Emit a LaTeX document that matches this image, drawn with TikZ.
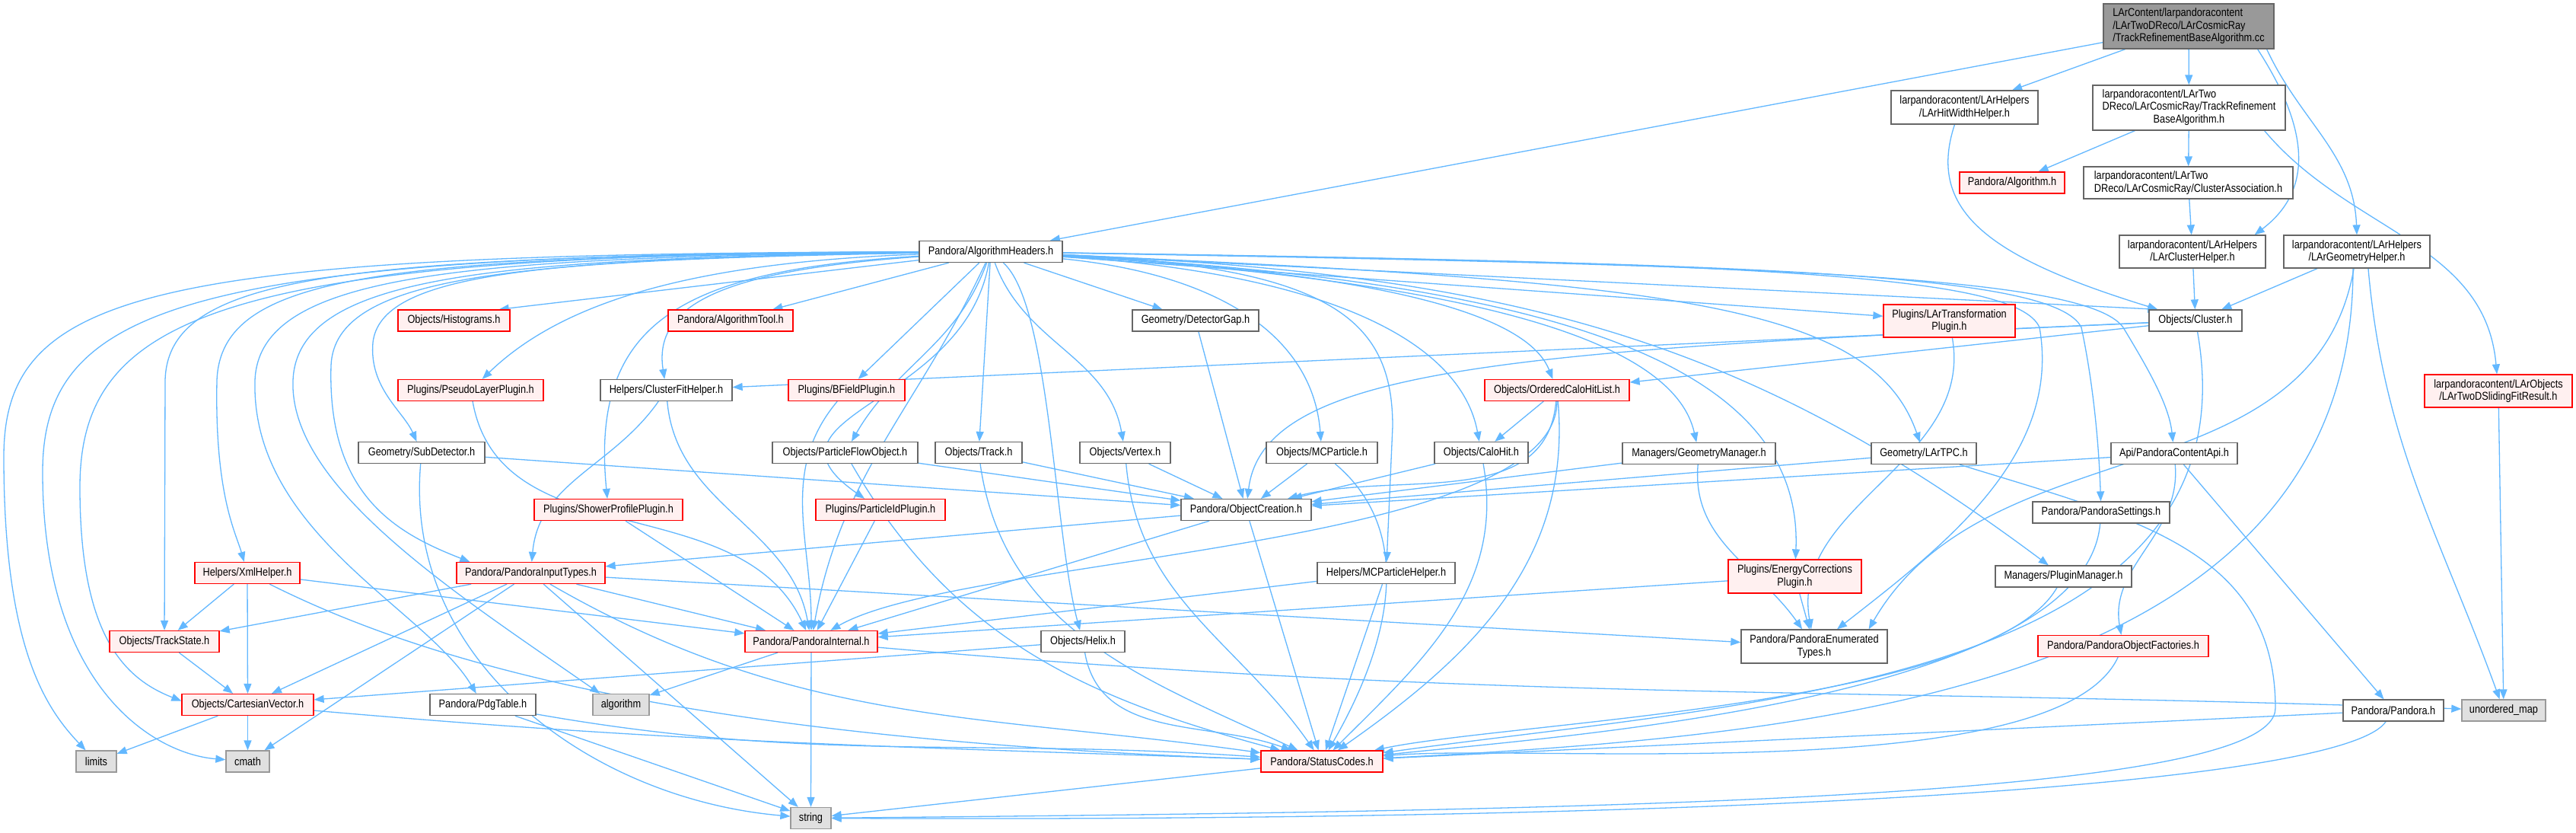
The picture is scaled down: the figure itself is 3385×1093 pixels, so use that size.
\documentclass[tikz,border=0pt]{standalone}
\usepackage{fontspec}
\setmainfont{Liberation Sans}[FakeStretch=0.85]
\usetikzlibrary{arrows.meta,calc}
\pgfdeclarelayer{back}
\pgfdeclarelayer{bg}
\pgfsetlayers{back,bg,main}
\definecolor{edgeblue}{HTML}{63B8FF}
\definecolor{boxgray}{HTML}{666666}
\definecolor{redfill}{HTML}{FFF0F0}
\definecolor{sysfill}{HTML}{E0E0E0}
\definecolor{sysdraw}{HTML}{999999}
\definecolor{rootfill}{HTML}{999999}
\newcommand{\nodefnt}{\fontsize{1.5}{1.65}\selectfont}
\begin{document}
\begin{tikzpicture}[x=0.1pt,y=0.1pt,
 nd/.style={draw=boxgray, fill=white, line width=0.13pt, inner sep=0pt, font=\nodefnt, minimum height=2.8pt, align=center},
 rd/.style={nd, draw=red, fill=redfill},
 sy/.style={nd, draw=sysdraw, fill=sysfill},
 rt/.style={nd, fill=rootfill},
 wd/.style={minimum width=#1*0.1pt},
 ht/.style={minimum height=#1*0.1pt},
 lnk/.style={draw=edgeblue, line width=0.13pt, -{Triangle[length=1.3pt,width=1.0pt]}},
]
\useasboundingbox (0,0) rectangle (3385,-1093);
\begin{pgfonlayer}{back}
\fill[white] (0,0) rectangle (3385,-1093);
\end{pgfonlayer}

\node[rt, wd=224, ht=59, align=left] (root) at (2876,-34.5) {LArContent/larpandoracontent\\/LArTwoDReco/LArCosmicRay\\/TrackRefinementBaseAlgorithm.cc};
\node[nd, wd=193, ht=44] (hitw) at (2581.5,-141) {larpandoracontent/LArHelpers\\/LArHitWidthHelper.h};
\node[nd, wd=253, ht=59] (trba) at (2876.5,-141.5) {\begin{tabular}{@{}l@{}}larpandoracontent/LArTwo\\DReco/LArCosmicRay/TrackRefinement\\\multicolumn{1}{@{}c@{}}{BaseAlgorithm.h}\end{tabular}};
\node[rd, wd=138] (alg) at (2644,-240) {Pandora/Algorithm.h};
\node[nd, wd=275, ht=42, align=left] (clas) at (2875.5,-240) {larpandoracontent/LArTwo\\DReco/LArCosmicRay/ClusterAssociation.h};
\node[nd, wd=192, ht=43] (clh) at (2881,-330.5) {larpandoracontent/LArHelpers\\/LArClusterHelper.h};
\node[nd, wd=192, ht=43] (geoh) at (3097,-330.5) {larpandoracontent/LArHelpers\\/LArGeometryHelper.h};
\node[nd, wd=188] (ah) at (1302,-330.5) {Pandora/AlgorithmHeaders.h};
\node[rd, wd=147] (hist) at (596.5,-421) {Objects/Histograms.h};
\node[rd, wd=164] (atool) at (960,-421) {Pandora/AlgorithmTool.h};
\node[nd, wd=166] (dgap) at (1571,-421) {Geometry/DetectorGap.h};
\node[rd, wd=173, ht=43] (lartr) at (2561.5,-421.5) {Plugins/LArTransformation\\Plugin.h};
\node[nd, wd=122] (clus) at (2885,-421) {Objects/Cluster.h};
\node[rd, wd=191] (pslp) at (618.5,-512.5) {Plugins/PseudoLayerPlugin.h};
\node[nd, wd=173] (cfh) at (875.5,-512.5) {Helpers/ClusterFitHelper.h};
\node[rd, wd=153] (bfp) at (1112.5,-512.5) {Plugins/BFieldPlugin.h};
\node[rd, wd=190] (ochl) at (2046,-512.5) {Objects/OrderedCaloHitList.h};
\node[rd, wd=194, ht=43] (slid) at (3283,-513.5) {larpandoracontent/LArObjects\\/LArTwoDSlidingFitResult.h};
\node[nd, wd=166] (subd) at (554,-594.5) {Geometry/SubDetector.h};
\node[nd, wd=191] (pfo) at (1110.5,-594.5) {Objects/ParticleFlowObject.h};
\node[nd, wd=114] (trk) at (1286,-594.5) {Objects/Track.h};
\node[nd, wd=119] (vtx) at (1478.5,-594.5) {Objects/Vertex.h};
\node[nd, wd=146] (mcp) at (1737,-594.5) {Objects/MCParticle.h};
\node[nd, wd=123] (calo) at (1946.5,-594.5) {Objects/CaloHit.h};
\node[nd, wd=201] (gman) at (2232.5,-595.5) {Managers/GeometryManager.h};
\node[nd, wd=138] (lartpc) at (2528,-595.5) {Geometry/LArTPC.h};
\node[nd, wd=166] (api) at (2857,-595.5) {Api/PandoraContentApi.h};
\node[nd, wd=180] (pset) at (2761,-673) {Pandora/PandoraSettings.h};
\node[rd, wd=195] (shpp) at (799.5,-669.5) {Plugins/ShowerProfilePlugin.h};
\node[rd, wd=170] (pidp) at (1157,-669.5) {Plugins/ParticleIdPlugin.h};
\node[nd, wd=171] (ocre) at (1637.5,-669.5) {Pandora/ObjectCreation.h};
\node[rd, wd=175, ht=44] (ecp) at (2358.5,-757) {Plugins/EnergyCorrections\\Plugin.h};
\node[nd, wd=179] (pman) at (2711.5,-757) {Managers/PluginManager.h};
\node[rd, wd=138] (xml) at (325,-752.5) {Helpers/XmlHelper.h};
\node[rd, wd=195] (pit) at (697.5,-752.5) {Pandora/PandoraInputTypes.h};
\node[nd, wd=181] (mcph) at (1821.5,-752.5) {Helpers/MCParticleHelper.h};
\node[rd, wd=144] (tst) at (216,-842.5) {Objects/TrackState.h};
\node[rd, wd=174] (pint) at (1066,-842.5) {Pandora/PandoraInternal.h};
\node[nd, wd=110] (helix) at (1423,-842.5) {Objects/Helix.h};
\node[nd, wd=192, ht=44] (penum) at (2384,-849) {Pandora/PandoraEnumerated\\Types.h};
\node[rd, wd=224] (pof) at (2790,-848.5) {Pandora/PandoraObjectFactories.h};
\node[rd, wd=173] (cvec) at (325.5,-925.5) {Objects/CartesianVector.h};
\node[nd, wd=139] (pdg) at (634.5,-925.5) {Pandora/PdgTable.h};
\node[sy, wd=74] (algo) at (816,-925.5) {algorithm};
\node[nd, wd=132] (pandora) at (3145,-933) {Pandora/Pandora.h};
\node[sy, wd=110] (umap) at (3290,-933) {unordered\_map};
\node[sy, wd=53] (limits) at (126.5,-1000) {limits};
\node[sy, wd=57] (cmath) at (325.5,-1000) {cmath};
\node[rd, wd=160] (stat) at (1737,-1000) {Pandora/StatusCodes.h};
\node[sy, wd=53] (string) at (1065.5,-1074.5) {string};

\begin{pgfonlayer}{bg}
% root file
\draw[lnk] (root) -- (ah);
\draw[lnk] (root) -- (hitw);
\draw[lnk] (root) -- (trba);
\draw[lnk] ($(root.south east)+(-22,0)$) .. controls (3035,-170) and (3040,-250) .. ($(clh.north east)+(-15,0)$);
\draw[lnk] ($(root.south east)+(-10,0)$) to[out=-65,in=92] (geoh.north);
\draw[lnk] (trba) -- (alg);
\draw[lnk] (trba) -- (clas);
\draw[lnk] ($(trba.south east)+(-28,0)$) to[out=-50,in=95] (slid);
\draw[lnk] (clas) -- (clh);
\draw[lnk] ($(hitw.south)+(-13,0)$) .. controls (2530,-280) and (2620,-340) .. ($(clus.north west)+(12,0)$);
\draw[lnk] (clh) -- (clus);
\draw[lnk] (geoh) -- (clus);
\draw[lnk] (geoh) to[out=-100,in=60] ($(penum.north east)+(-25,0)$);
\draw[lnk] ($(geoh.south)+(-5,0)$) to[out=-90,in=3] (stat);
\draw[lnk] ($(geoh.south)+(15,0)$) to[out=-85,in=110] (umap);
\draw[lnk] (slid) -- (umap);
% AlgorithmHeaders, rightwards
\draw[lnk] (ah) .. controls (1600,-360) and (1725,-440) .. (mcp);
\draw[lnk] (ah) .. controls (1750,-360) and (1920,-450) .. (calo);
\draw[lnk] (ah) .. controls (1850,-360) and (2010,-420) .. (ochl);
\draw[lnk] (ah) .. controls (1950,-370) and (2200,-450) .. (gman);
\draw[lnk] (ah) .. controls (2200,-370) and (2460,-400) .. (lartpc);
\draw[lnk] (ah) .. controls (2300,-348) and (2740,-360) .. (2790,-430) .. controls (2820,-480) and (2850,-530) .. (api);
\draw[lnk] (ah) .. controls (2300,-346) and (2700,-358) .. (2735,-430) .. controls (2750,-500) and (2758,-580) .. (pset);
\draw[lnk] (ah) .. controls (2050,-370) and (2370,-480) .. (ecp);
\draw[lnk] (ah) .. controls (2000,-360) and (2300,-450) .. (pman);
\draw[lnk] (ah) .. controls (2300,-345) and (2650,-360) .. (2680,-430) .. controls (2710,-600) and (2550,-720) .. ($(penum.north)+(30,0)$);
\draw[lnk] (ah) .. controls (1750,-350) and (1830,-420) .. (1830,-560) -- (mcph);
\draw[lnk] (ah) -- ($(clus.north west)+(12,0)$);
\draw[lnk] (ah) -- (lartr);
\draw[lnk] (ah) -- (dgap);
\draw[lnk] (ah) .. controls (1380,-400) and (1385,-700) .. (helix);
\draw[lnk] (ah) to[out=-70,in=100] (vtx);
% AlgorithmHeaders, leftwards
\draw[lnk] (ah) -- ($(hist.north east)+(-15,0)$);
\draw[lnk] (ah) -- (atool);
\draw[lnk] (ah) .. controls (900,-345) and (735,-400) .. (pslp);
\draw[lnk] (ah) .. controls (950,-355) and (858,-400) .. (cfh);
\draw[lnk] (ah) -- (bfp);
\draw[lnk] (ah) .. controls (700,-340) and (500,-360) .. (490,-450) .. controls (485,-510) and (530,-540) .. (subd);
\draw[lnk] (ah) to[out=-110,in=60] (pfo);
\draw[lnk] (ah) -- (trk);
\draw[lnk] (ah) to[out=-100,in=145,looseness=1.4] (pidp);
\draw[lnk] (ah) .. controls (900,-355) and (775,-420) .. (shpp);
\draw[lnk] (ah) .. controls (680,-342) and (440,-360) .. (435,-480) .. controls (430,-650) and (520,-700) .. ($(pit.north west)+(18,0)$);
\draw[lnk] (ah) to[out=-115,in=80] (pint);
\draw[lnk] (ah) .. controls (500,-337) and (290,-360) .. (285,-500) .. controls (282,-650) and (310,-700) .. (xml);
\draw[lnk] (ah) .. controls (450,-336) and (220,-360) .. (217,-500) -- (tst);
\draw[lnk] (ah) .. controls (300,-334) and (105,-410) .. (105,-640) .. controls (105,-830) and (160,-890) .. ($(cvec.west)+(0,5)$);
\draw[lnk] (ah) .. controls (600,-338) and (340,-360) .. (335,-500) .. controls (330,-700) and (560,-800) .. (pdg);
\draw[lnk] (ah) .. controls (650,-340) and (390,-360) .. (385,-500) .. controls (380,-640) and (600,-780) .. ($(algo.north west)+(10,0)$);
\draw[lnk] (ah) .. controls (200,-333) and (5,-380) .. (5,-600) .. controls (5,-850) and (60,-930) .. (limits);
\draw[lnk] (ah) .. controls (250,-333) and (56,-400) .. (56,-620) .. controls (56,-900) and (200,-990) .. (cmath);
% others
\draw[lnk] (api) -- (ocre);
\draw[lnk] (api) to[out=-85,in=100] (pof);
\draw[lnk] (api) -- (pandora);
\draw[lnk] (dgap) -- (ocre);
\draw[lnk] (lartpc) -- (ocre);
\draw[lnk] (lartpc) .. controls (2800,-680) and (2990,-720) .. (2990,-930) .. controls (2990,-1050) and (2100,-1065) .. (string);
\draw[lnk] (gman) -- (ocre);
\draw[lnk] (gman) to[out=-95,in=125] (penum);
\draw[lnk] (subd) -- (ocre);
\draw[lnk] (subd) to[out=-95,in=175] (string);
\draw[lnk] (cfh) to[out=-125,in=85] (pit);
\draw[lnk] (cfh) to[out=-85,in=100] (pint);
\draw[lnk] (pslp) to[out=-80,in=115] (pint);
\draw[lnk] (bfp) to[out=-130,in=90] (pint);
\draw[lnk] (shpp) -- (pint);
\draw[lnk] (pidp) -- (pint);
\draw[lnk] (pfo) -- (ocre);
\draw[lnk] (pfo) to[out=-60,in=165] (stat);
\draw[lnk] (trk) -- (ocre);
\draw[lnk] (trk) to[out=-82,in=155] (stat);
\draw[lnk] (vtx) -- (ocre);
\draw[lnk] (vtx) to[out=-85,in=125] (stat);
\draw[lnk] (mcp) -- (ocre);
\draw[lnk] (mcp) to[out=-40,in=60] (stat);
\draw[lnk] (calo) -- (ocre);
\draw[lnk] (calo) to[out=-80,in=45] (stat);
\draw[lnk] (ochl) -- (calo);
\draw[lnk] (ochl) to[out=-95,in=15] (ocre);
\draw[lnk] (ochl) to[out=-85,in=35] (stat);
\draw[lnk] (ochl) to[out=-90,in=30,looseness=0.5] (pint);
\draw[lnk] (clus) .. controls (2000,-460) and (1660,-480) .. (ocre);
\draw[lnk] (clus) -- (ochl);
\draw[lnk] (clus) -- (cfh);
\draw[lnk] (clus) to[out=-80,in=8] (stat);
\draw[lnk] (lartr) to[out=-80,in=100] (penum);
\draw[lnk] (ecp) -- (pint);
\draw[lnk] (ecp) -- (penum);
\draw[lnk] (pman) to[out=-120,in=12,looseness=0.5] (stat);
\draw[lnk] (pset) to[out=-95,in=6,looseness=0.6] (stat);
\draw[lnk] (pof) to[out=-115,in=5,looseness=0.5] (stat);
\draw[lnk] (pandora) -- (stat);
\draw[lnk] (pandora) .. controls (3080,-1030) and (2300,-1080) .. (string);
\draw[lnk] (ocre) -- (pit);
\draw[lnk] (ocre) -- (pint);
\draw[lnk] (ocre) -- (stat);
\draw[lnk] (mcph) -- (pint);
\draw[lnk] (mcph) -- (stat);
\draw[lnk] (xml) -- (tst);
\draw[lnk] (xml) -- (cvec);
\draw[lnk] (xml) -- (pint);
\draw[lnk] (xml) .. controls (560,-870) and (900,-970) .. (stat);
\draw[lnk] (pit) -- (tst);
\draw[lnk] (pit) -- (cvec);
\draw[lnk] (pit) -- (cmath);
\draw[lnk] (pit) -- (string);
\draw[lnk] (pit) -- (pint);
\draw[lnk] (pit) to[out=-30,in=172] (stat);
\draw[lnk] (pit) -- (penum);
\draw[lnk] (tst) -- (cvec);
\draw[lnk] (pint) -- (algo);
\draw[lnk] (pint) -- (string);
\draw[lnk] (pint) to[out=-5,in=178] (umap);
\draw[lnk] (helix) -- (cvec);
\draw[lnk] (helix) to[out=-80,in=160] (stat);
\draw[lnk] (cvec) -- (limits);
\draw[lnk] (cvec) -- (cmath);
\draw[lnk] (cvec) to[out=-5,in=178] (stat);
\draw[lnk] (pdg) -- (string);
\draw[lnk] (pdg) to[out=-10,in=176] (stat);
\draw[lnk] (stat) -- (string);
\end{pgfonlayer}
\end{tikzpicture}
\end{document}
